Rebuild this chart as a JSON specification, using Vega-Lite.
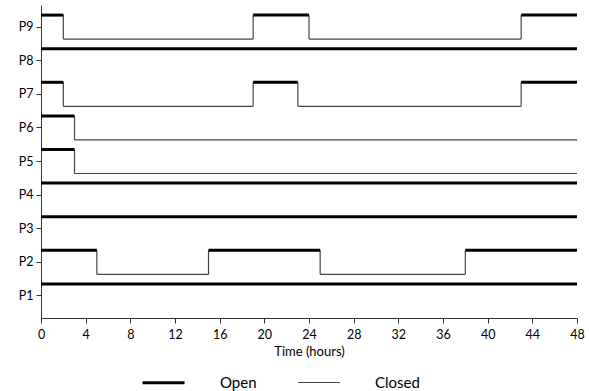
{
  "$schema": "https://vega.github.io/schema/vega-lite/v6.json",
  "width": 536,
  "height": 313,
  "autosize": {"type": "none"},
  "padding": {"left": 41, "top": 5, "right": 12, "bottom": 73},
  "config": {
    "font": "Lato",
    "view": {"stroke": null},
    "axis": {
      "domainColor": "#333333",
      "tickColor": "#333333",
      "labelColor": "#000000",
      "titleColor": "#000000",
      "labelFontSize": 12.5,
      "tickSize": 5,
      "grid": false
    },
    "legend": {
      "orient": "none",
      "legendX": 100,
      "legendY": 355,
      "direction": "horizontal",
      "symbolType": "stroke",
      "symbolSize": 1764,
      "symbolStrokeColor": "#000000",
      "labelFontSize": 15,
      "labelColor": "#000000",
      "labelOffset": 34,
      "columnPadding": 38,
      "padding": 0
    }
  },
  "datasets": {
    "segments": [
      {"row": "P9", "start": 0, "end": 2, "state": "Open"},
      {"row": "P9", "start": 2, "end": 19, "state": "Closed"},
      {"row": "P9", "start": 19, "end": 24, "state": "Open"},
      {"row": "P9", "start": 24, "end": 43, "state": "Closed"},
      {"row": "P9", "start": 43, "end": 48, "state": "Open"},
      {"row": "P8", "start": 0, "end": 48, "state": "Open"},
      {"row": "P7", "start": 0, "end": 2, "state": "Open"},
      {"row": "P7", "start": 2, "end": 19, "state": "Closed"},
      {"row": "P7", "start": 19, "end": 23, "state": "Open"},
      {"row": "P7", "start": 23, "end": 43, "state": "Closed"},
      {"row": "P7", "start": 43, "end": 48, "state": "Open"},
      {"row": "P6", "start": 0, "end": 3, "state": "Open"},
      {"row": "P6", "start": 3, "end": 48, "state": "Closed"},
      {"row": "P5", "start": 0, "end": 3, "state": "Open"},
      {"row": "P5", "start": 3, "end": 48, "state": "Closed"},
      {"row": "P4", "start": 0, "end": 48, "state": "Open"},
      {"row": "P3", "start": 0, "end": 48, "state": "Open"},
      {"row": "P2", "start": 0, "end": 5, "state": "Open"},
      {"row": "P2", "start": 5, "end": 15, "state": "Closed"},
      {"row": "P2", "start": 15, "end": 25, "state": "Open"},
      {"row": "P2", "start": 25, "end": 38, "state": "Closed"},
      {"row": "P2", "start": 38, "end": 48, "state": "Open"},
      {"row": "P1", "start": 0, "end": 48, "state": "Open"}
    ]
  },
  "layer": [
    {
      "data": {"name": "segments"},
      "transform": [{"filter": "datum.start > 0"}],
      "mark": {"type": "rule", "color": "#444444", "strokeWidth": 1.2},
      "encoding": {
        "x": {
          "field": "start",
          "type": "quantitative",
          "scale": {"domain": [0, 48], "nice": false, "zero": false},
          "axis": {
            "values": [0, 4, 8, 12, 16, 20, 24, 28, 32, 36, 40, 44, 48],
            "title": "Time (hours)",
            "titleFontSize": 13,
            "titleFontWeight": "normal",
            "titlePadding": 5,
            "labelPadding": 5,
            "labelFlush": false
          }
        },
        "y": {
          "field": "row",
          "type": "ordinal",
          "bandPosition": 0.143,
          "scale": {
            "domain": ["P9", "P8", "P7", "P6", "P5", "P4", "P3", "P2", "P1"],
            "paddingInner": 0,
            "paddingOuter": 0.158
          },
          "axis": {"title": null, "labelPadding": 3}
        },
        "y2": {"field": "row", "bandPosition": 0.857}
      }
    },
    {
      "data": {"name": "segments"},
      "transform": [{"filter": "datum.state == 'Closed'"}],
      "mark": {"type": "rule"},
      "encoding": {
        "x": {"field": "start", "type": "quantitative"},
        "x2": {"field": "end"},
        "y": {"field": "row", "type": "ordinal", "bandPosition": 0.857},
        "color": {
          "field": "state",
          "type": "nominal",
          "scale": {"domain": ["Open", "Closed"], "range": ["#000000", "#444444"]},
          "legend": {"title": null}
        },
        "strokeWidth": {
          "field": "state",
          "type": "ordinal",
          "scale": {"domain": ["Open", "Closed"], "range": [3, 1.2]},
          "legend": {"title": null}
        }
      }
    },
    {
      "data": {"name": "segments"},
      "transform": [{"filter": "datum.state == 'Open'"}],
      "mark": {"type": "rule"},
      "encoding": {
        "x": {"field": "start", "type": "quantitative"},
        "x2": {"field": "end"},
        "y": {"field": "row", "type": "ordinal", "bandPosition": 0.143},
        "color": {"field": "state", "type": "nominal"},
        "strokeWidth": {"field": "state", "type": "ordinal"}
      }
    },
    {
      "mark": {"type": "rule", "color": "#000000", "strokeWidth": 1.2},
      "encoding": {"x": {"datum": 48}}
    }
  ]
}
